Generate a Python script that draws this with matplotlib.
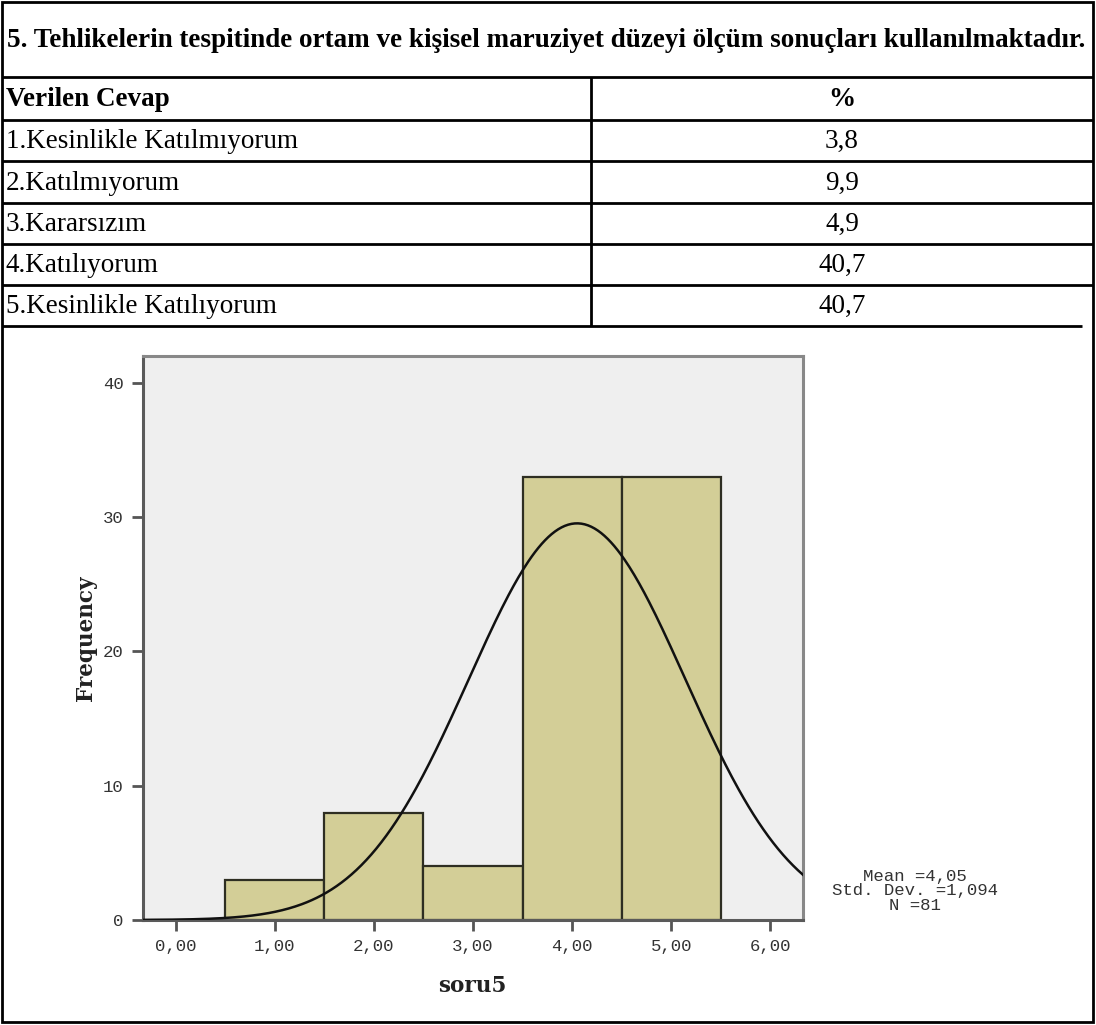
import numpy as np
import matplotlib
matplotlib.use("Agg")
import matplotlib.pyplot as plt
from matplotlib.patches import Rectangle
from matplotlib.ticker import FuncFormatter, FixedLocator

# ---- table content ----
question = ("5. Tehlikelerin tespitinde ortam ve kişisel maruziyet düzeyi "
            "ölçüm sonuçları kullanılmaktadır.")
col_headers = ["Verilen Cevap", "%"]
answers = ["1.Kesinlikle Katılmıyorum", "2.Katılmıyorum", "3.Kararsızım",
           "4.Katılıyorum", "5.Kesinlikle Katılıyorum"]
percent = [3.8, 9.9, 4.9, 40.7, 40.7]

# ---- histogram content ----
scores = [1, 2, 3, 4, 5]
frequency = [3, 8, 4, 33, 33]
mean, std_dev, n_obs = 4.05, 1.094, 81
x_ticks = [0, 1, 2, 3, 4, 5, 6]
y_ticks = [0, 10, 20, 30, 40]
x_label = "soru5"
y_label = "Frequency"


def comma(v, decimals):
    return f"{v:.{decimals}f}".replace(".", ",")


W, H = 1096, 1025
fig = plt.figure(figsize=(W / 100, H / 100), dpi=100)
fig.patch.set_facecolor("white")

# page layer in pixel coordinates for the table frame
page = fig.add_axes([0, 0, 1, 1])
page.set_xlim(0, W)
page.set_ylim(H, 0)
page.axis("off")

serif = "Liberation Serif"
mono = "Liberation Mono"
slab = "DejaVu Serif"
fs_table = 19.5
lw = 2.0
x0, x1, y0, y1 = 2, 1093, 2, 1022
col_x = 591
row_lines = [77, 120, 161, 203, 244, 285, 326]

page.add_patch(Rectangle((x0, y0), x1 - x0, y1 - y0, fill=False,
                         edgecolor="black", linewidth=lw))
for i, y in enumerate(row_lines):
    xe = x1 if i < len(row_lines) - 1 else 1082
    page.plot([x0, xe], [y, y], color="black", linewidth=lw,
              solid_capstyle="butt")
page.plot([col_x, col_x], [row_lines[0], row_lines[-1]], color="black",
          linewidth=lw, solid_capstyle="butt")

page.text(7, (y0 + row_lines[0]) / 2 + 1, question, fontsize=fs_table,
          fontweight="bold", family=serif, va="center", ha="left")
hy = (row_lines[0] + row_lines[1]) / 2 + 1
page.text(6, hy, col_headers[0], fontsize=fs_table, fontweight="bold",
          family=serif, va="center", ha="left")
page.text((col_x + x1) / 2, hy, col_headers[1], fontsize=fs_table,
          fontweight="bold", family=serif, va="center", ha="center")
for i, (ans, p) in enumerate(zip(answers, percent)):
    cy = (row_lines[i + 1] + row_lines[i + 2]) / 2 + 1
    page.text(6, cy, ans, fontsize=fs_table, family=serif, va="center",
              ha="left")
    page.text((col_x + x1) / 2, cy, comma(p, 1), fontsize=fs_table,
              family=serif, va="center", ha="center")

# ---- histogram ----
ax_l, ax_r, ax_t, ax_b = 143, 803, 356, 920
ax = fig.add_axes([ax_l / W, (H - ax_b) / H, (ax_r - ax_l) / W,
                   (ax_b - ax_t) / H])
ax.set_facecolor("#efefef")
ax.bar(scores, frequency, width=1.0, color="#d3ce97", edgecolor="#2e2e22",
       linewidth=1.6, zorder=2)

xs = np.linspace(-0.33, 6.33, 400)
bin_width = 1.0
curve = n_obs * bin_width / (std_dev * np.sqrt(2 * np.pi)) * \
    np.exp(-0.5 * ((xs - mean) / std_dev) ** 2)
ax.plot(xs, curve, color="#111111", linewidth=1.8, zorder=3)

ax.set_xlim(-0.33, 6.33)
ax.set_ylim(0, 42)
ax.xaxis.set_major_locator(FixedLocator(x_ticks))
ax.yaxis.set_major_locator(FixedLocator(y_ticks))
ax.xaxis.set_major_formatter(FuncFormatter(lambda v, _: comma(v, 2)))
ax.yaxis.set_major_formatter(FuncFormatter(lambda v, _: f"{v:.0f}"))
ax.tick_params(direction="out", length=8, width=2, color="#555555",
               labelcolor="#333333", labelsize=12.5, pad=6)
for lbl in ax.get_xticklabels() + ax.get_yticklabels():
    lbl.set_family(mono)
for side in ["left", "right", "top", "bottom"]:
    ax.spines[side].set_color("#5a5a5a")
    ax.spines[side].set_linewidth(2.2)
ax.spines["top"].set_color("#888888")
ax.spines["right"].set_color("#888888")

ax.set_xlabel(x_label, family=slab, fontweight="bold", fontsize=15.5,
              color="#222222")
ax.set_ylabel(y_label, family=slab, fontweight="bold", fontsize=15.5,
              color="#222222")
ax.xaxis.set_label_coords((472 - ax_l) / (ax_r - ax_l),
                          -(975 - ax_b) / (ax_b - ax_t))
ax.yaxis.set_label_coords(-(ax_l - 97) / (ax_r - ax_l), 0.5)

stats = (f"Mean ={comma(mean, 2)}\n"
         f"Std. Dev. ={comma(std_dev, 3)}\n"
         f"N ={n_obs}")
page.text(915, 891, stats, family=mono, fontsize=12.5, color="#333333",
          ha="center", va="center", multialignment="center",
          linespacing=1.0)

fig.savefig("out.png", dpi=100, facecolor="white")
